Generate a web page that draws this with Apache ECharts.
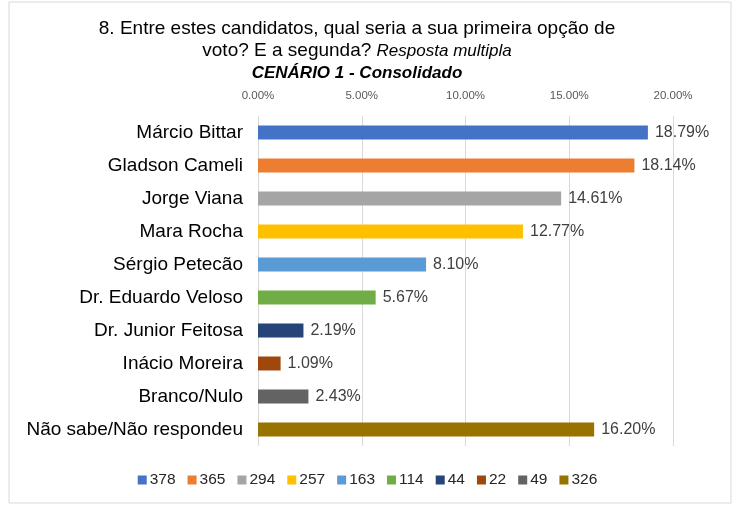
<!DOCTYPE html>
<html>
<head>
<meta charset="utf-8">
<script src="https://cdn.jsdelivr.net/npm/echarts@6/dist/echarts.min.js"></script>
<style>
  html, body { margin: 0; padding: 0; background: #fff; }
  #chart { width: 735px; height: 512px; }
</style>
</head>
<body>
<div id="chart"></div>
<script>
// candidatos (de cima para baixo)
var categories = ['Márcio Bittar', 'Gladson Cameli', 'Jorge Viana', 'Mara Rocha', 'Sérgio Petecão',
  'Dr. Eduardo Veloso', 'Dr. Junior Feitosa', 'Inácio Moreira', 'Branco/Nulo', 'Não sabe/Não respondeu'];
// percentual de cada um
var percents = [0.1879, 0.1814, 0.1461, 0.1277, 0.0810, 0.0567, 0.0219, 0.0109, 0.0243, 0.1620];
// quantidade de respostas (legenda)
var counts = ['378', '365', '294', '257', '163', '114', '44', '22', '49', '326'];
var colors = ['#4472C4', '#ED7D31', '#A5A5A5', '#FFC000', '#5B9BD5',
  '#70AD47', '#264478', '#9E480E', '#636363', '#997300'];
var axisTicks = [0, 0.05, 0.10, 0.15, 0.20];

var chart = echarts.init(document.getElementById('chart'));

var series = [];
for (var i = 0; i < categories.length; i++) {
  var data = [];
  for (var j = 0; j < categories.length; j++) {
    data.push(j == i ? percents[i] : null);
  }
  series.push({
    type: 'bar',
    name: counts[i],
    stack: 'total',
    barWidth: 14,
    data: data,
    itemStyle: { color: colors[i] },
    label: {
      show: true,
      position: 'right',
      distance: 7,
      color: '#404040',
      fontSize: 16,
      fontFamily: 'Liberation Sans',
      formatter: function (p) { return (p.value * 100).toFixed(2) + '%'; }
    }
  });
}

var option = {
  backgroundColor: '#ffffff',
  animation: false,
  textStyle: { fontFamily: 'Liberation Sans' },
  color: colors,
  graphic: [{
    type: 'rect',
    shape: { x: 9, y: 2, width: 722, height: 501 },
    style: { fill: 'none', stroke: '#d9d9d9', lineWidth: 1 },
    silent: true
  }],
  title: {
    left: 352,
    top: 13,
    textAlign: 'center',
    text: '8. Entre estes candidatos, qual seria a sua primeira opção de\n{n|voto? E a segunda? }{i|Resposta multipla}\n{b|CENÁRIO 1 - Consolidado}',
    textStyle: {
      fontFamily: 'Liberation Sans',
      fontSize: 19,
      fontWeight: 'normal',
      color: '#000',
      lineHeight: 22,
      rich: {
        n: { fontSize: 19, color: '#000', fontFamily: 'Liberation Sans', lineHeight: 22 },
        i: { fontSize: 17, fontStyle: 'italic', color: '#000', fontFamily: 'Liberation Sans', lineHeight: 22 },
        b: { fontSize: 17, fontStyle: 'italic', fontWeight: 'bold', color: '#000', fontFamily: 'Liberation Sans', lineHeight: 22 }
      }
    }
  },
  legend: {
    bottom: 19,
    left: 'center',
    padding: [5, 2, 5, 8],
    itemWidth: 9,
    itemHeight: 9,
    itemGap: 12,
    icon: 'rect',
    textStyle: { fontSize: 15.5, color: '#262626', fontFamily: 'Liberation Sans', padding: [0, 0, 0, -2] },
    data: counts
  },
  grid: { left: 258, right: 62, top: 116, bottom: 66 },
  xAxis: {
    type: 'value',
    position: 'top',
    min: axisTicks[0],
    max: axisTicks[axisTicks.length - 1],
    interval: 0.05,
    axisLine: { show: false },
    axisTick: { show: false },
    axisLabel: {
      color: '#595959',
      fontSize: 11.5,
      margin: 14,
      formatter: function (v) { return (v * 100).toFixed(2) + '%'; }
    },
    splitLine: { lineStyle: { color: '#d9d9d9' } }
  },
  yAxis: {
    type: 'category',
    inverse: true,
    data: categories,
    axisLine: { show: false },
    axisTick: { show: false },
    axisLabel: { color: '#000', fontSize: 19, margin: 15 }
  },
  series: series
};

chart.setOption(option);
</script>
</body>
</html>
